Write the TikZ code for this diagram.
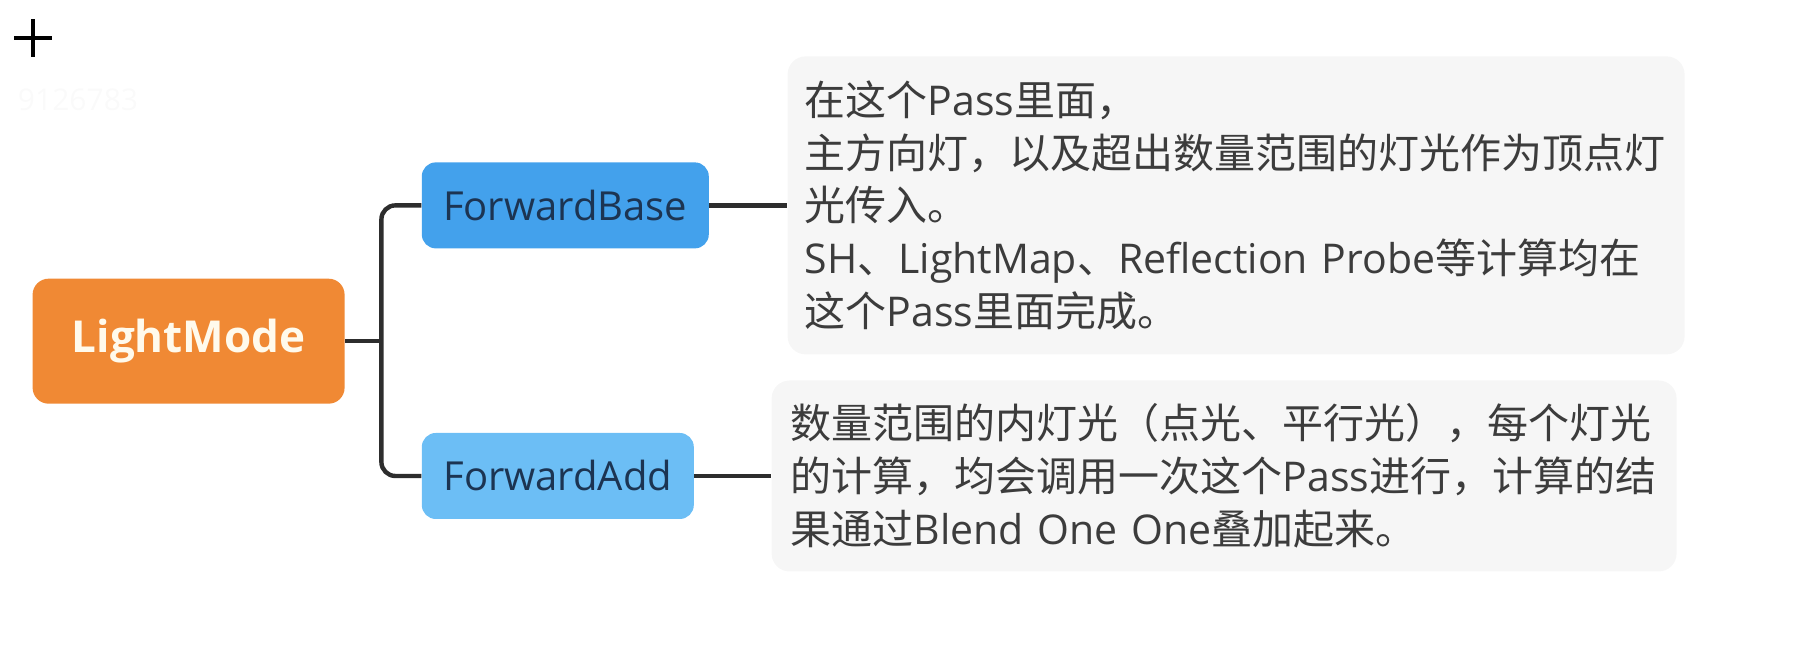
\documentclass[tikz,border=0pt]{standalone}
\usepackage{fontspec}
\setmainfont{Open Sans}
\newfontfamily\cjk{Noto Sans CJK SC}
\newcommand{\en}[1]{{\rmfamily #1}}
\usepackage{tikz}
\usetikzlibrary{positioning}

\definecolor{rootfill}{RGB}{240,137,52}
\definecolor{rootfont}{RGB}{255,250,236}
\definecolor{basefill}{RGB}{67,161,236}
\definecolor{addfill}{RGB}{108,190,245}
\definecolor{branchfont}{RGB}{28,52,82}
\definecolor{notefill}{RGB}{246,246,246}
\definecolor{notefont}{RGB}{60,60,60}
\definecolor{linkcol}{RGB}{45,45,45}

\begin{document}
\begin{tikzpicture}[
  root/.style={fill=rootfill, rounded corners=8pt, minimum width=156pt, minimum height=62.5pt, text=rootfont, font=\fontsize{22}{26}\selectfont\bfseries},
  branch/.style={rounded corners=7pt, minimum height=43pt, text=branchfont, font=\fontsize{20}{24}\selectfont},
  note/.style={fill=notefill, rounded corners=9pt, align=left, text=notefont, font=\cjk\fontsize{20.5}{26.4}\selectfont},
  link/.style={draw=linkcol, line width=2.2pt}
]
\useasboundingbox (0,0) rectangle (910pt,336pt);
\coordinate (cross) at (16.5pt,317pt);
\draw[line width=1.6pt] (cross) ++(-9.5pt,0) -- ++(19pt,0) (cross) ++(0,-9.5pt) -- ++(0,19pt);
\node[text=black!2, font=\fontsize{15}{18}\selectfont] (mark) at (39pt,286pt) {9126783};
\node[root] (root) at (94.3pt,165.4pt) {LightMode};
\node[branch, fill=basefill, minimum width=143.5pt, right=38.2pt of root, yshift=67.9pt] (base) {ForwardBase};
\node[branch, fill=addfill, minimum width=136pt, right=38.2pt of root, yshift=-67.4pt] (add) {ForwardAdd};
\node[note, text width=431.5pt, inner xsep=8.5pt, minimum height=149pt, right=39pt of base] (basenote) {在这个\en{Pass}里面，\\主方向灯，以及超出数量范围的灯光作为顶点灯\\光传入。\\\en{SH}、\en{LightMap}、\en{Reflection Probe}等计算均在\\这个\en{Pass}里面完成。};
\node[note, text width=433.5pt, inner xsep=9.5pt, minimum height=95.5pt, right=38.5pt of add] (addnote) {数量范围的内灯光（点光、平行光），每个灯光\\的计算，均会调用一次这个\en{Pass}进行，计算的结\\果通过\en{Blend One One}叠加起来。};
\coordinate[right=18.2pt of root.east] (fork);
\draw[link] (root.east) -- (fork);
\draw[link, rounded corners=7pt] (base.west) -| (fork) |- (add.west);
\draw[link] (base) -- (basenote);
\draw[link] (add) -- (addnote);
\end{tikzpicture}
\end{document}
